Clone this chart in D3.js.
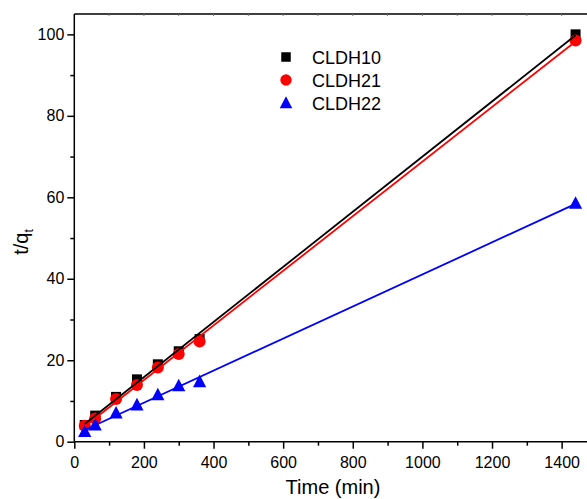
<!DOCTYPE html>
<html>
<head>
<meta charset="utf-8">
<script src="https://cdn.jsdelivr.net/npm/d3@7"></script>
<style>
body { margin: 0; background: #fff; }
svg { display: block; font-family: Arial, "Liberation Sans", sans-serif; }
</style>
</head>
<body>
<div class="chart"></div>
<script>
// time points (min)
var times = [30, 60, 120, 180, 240, 300, 360, 1440];
var seriesNames = ["CLDH10", "CLDH21", "CLDH22"];
var cldh10 = [4.1, 6.4, 11.0, 15.3, 19.0, 22.2, 25.2, 100.0];
var cldh21 = [3.9, 5.7, 10.5, 13.9, 18.2, 21.5, 24.6, 98.5];
var cldh22 = [2.5, 4.1, 7.0, 9.0, 11.5, 13.7, 14.7, 58.5];
var xTicks = [0, 200, 400, 600, 800, 1000, 1200, 1400];
var yTicks = [0, 20, 40, 60, 80, 100];

var width = 587, height = 499;
var plotLeft = 74.3, plotTop = 14, plotBottom = 441.7;

var svg = d3.select('.chart')
    .append('svg')
    .attr('width', width)
    .attr('height', height);

var x = d3.scaleLinear().domain([0, 1500]).range([plotLeft, plotLeft + 1500 * 0.3481]);
var y = d3.scaleLinear().domain([0, 105]).range([plotBottom, plotTop]);

var colors = ["#000000", "#ff0000", "#0000ff"];
var allSeries = [cldh10, cldh21, cldh22];

// frame top line
svg.append("line")
    .attr("x1", plotLeft).attr("x2", width)
    .attr("y1", plotTop).attr("y2", plotTop)
    .attr("stroke", "#000").attr("stroke-width", 1.5);
svg.selectAll(".topTick")
    .data(d3.range(100, 1500, 100))
    .enter().append("line")
    .attr("x1", function (d) { return x(d); })
    .attr("x2", function (d) { return x(d); })
    .attr("y1", plotTop).attr("y2", plotTop + 2)
    .attr("stroke", "#777").attr("stroke-width", 1);

// x axis
var xAxis = d3.axisBottom(x).tickValues(xTicks).tickSize(7).tickPadding(8).tickSizeOuter(0).tickFormat(d3.format("d"));
var xMinor = d3.axisBottom(x).tickValues(d3.range(100, 1500, 200)).tickSize(4).tickFormat("").tickSizeOuter(0);
var gx = svg.append("g").attr("transform", "translate(0," + plotBottom + ")").call(xAxis);
var gxm = svg.append("g").attr("transform", "translate(0," + plotBottom + ")").call(xMinor);
gxm.select(".domain").remove();

// y axis
var yAxis = d3.axisLeft(y).tickValues(yTicks).tickSize(7).tickPadding(3).tickSizeOuter(0);
var yMinor = d3.axisLeft(y).tickValues([10, 30, 50, 70, 90]).tickSize(4).tickFormat("").tickSizeOuter(0);
var gy = svg.append("g").attr("transform", "translate(" + plotLeft + ",0)").call(yAxis);
var gym = svg.append("g").attr("transform", "translate(" + plotLeft + ",0)").call(yMinor);
gym.select(".domain").remove();

[gx, gxm, gy, gym].forEach(function (g) {
    g.selectAll("path, line").attr("stroke", "#000").attr("stroke-width", 1.5);
    g.selectAll("text").attr("font-size", 16).attr("fill", "#000")
        .attr("font-family", "Arial, 'Liberation Sans', sans-serif");
});
gy.select(".domain").attr("d", "M0," + plotTop + "V" + plotBottom);
gx.select(".domain").attr("d", "M" + plotLeft + ",0H" + width);

// axis titles
svg.append("text")
    .attr("x", 333).attr("y", 494)
    .attr("text-anchor", "middle")
    .attr("font-size", 20)
    .text("Time (min)");

var yl = svg.append("text")
    .attr("transform", "translate(28,242) rotate(-90)")
    .attr("text-anchor", "middle")
    .attr("font-size", 20);
yl.append("tspan").text("t/q");
yl.append("tspan").attr("font-size", 12).attr("dy", 5).text("t");

// markers
function drawMarker(g, i, cx, cy, s) {
    if (i == 0) {
        g.append("rect").attr("x", cx - s / 2).attr("y", cy - s / 2)
            .attr("width", s).attr("height", s).attr("fill", colors[i]);
    } else if (i == 1) {
        g.append("circle").attr("cx", cx).attr("cy", cy).attr("r", s * 0.6).attr("fill", colors[i]);
    } else {
        var h = s * 1.2;
        g.append("path")
            .attr("d", "M" + cx + "," + (cy - h * 0.6) + "L" + (cx + h * 0.55) + "," + (cy + h * 0.45) + "L" + (cx - h * 0.55) + "," + (cy + h * 0.45) + "Z")
            .attr("fill", colors[i]);
    }
}

var marks = svg.append("g");
allSeries.forEach(function (vals, i) {
    vals.forEach(function (v, j) {
        drawMarker(marks, i, x(times[j]), y(v), 10);
    });
});

// linear fits
function fit(vals) {
    var mx = d3.mean(times), my = d3.mean(vals);
    var sxy = d3.sum(times, function (t, j) { return (t - mx) * (vals[j] - my); });
    var sxx = d3.sum(times, function (t) { return (t - mx) * (t - mx); });
    var b = sxy / sxx;
    return { b: b, a: my - b * mx };
}
allSeries.forEach(function (vals, i) {
    var f = fit(vals);
    var t0 = times[0], t1 = times[times.length - 1];
    svg.append("line")
        .attr("x1", x(t0)).attr("y1", y(f.a + f.b * t0))
        .attr("x2", x(t1)).attr("y2", y(f.a + f.b * t1))
        .attr("stroke", colors[i]).attr("stroke-width", 1.8);
});

// legend
var legend = svg.append("g");
seriesNames.forEach(function (name, i) {
    var ly = 57 + i * 23;
    drawMarker(legend, i, 286, ly, 9.5);
    legend.append("text")
        .attr("x", 312).attr("y", ly + 6.5)
        .attr("font-size", 18)
        .text(name);
});
</script>
</body>
</html>
